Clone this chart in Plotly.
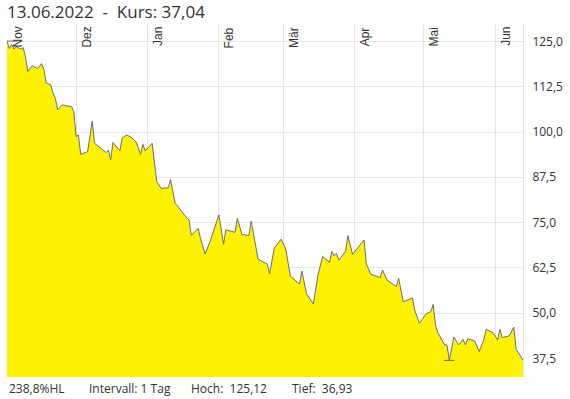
import plotly.graph_objects as go
import pandas as pd

# ---- data ----
dates = [
    "2021-11-01", "2021-11-02", "2021-11-03", "2021-11-04", "2021-11-05", "2021-11-07",
    "2021-11-08", "2021-11-09", "2021-11-10", "2021-11-12", "2021-11-14", "2021-11-15",
    "2021-11-16", "2021-11-17", "2021-11-18", "2021-11-20", "2021-11-21", "2021-11-22",
    "2021-11-23", "2021-11-25", "2021-11-27", "2021-11-29", "2021-11-30", "2021-12-01",
    "2021-12-02", "2021-12-03", "2021-12-06", "2021-12-07", "2021-12-08", "2021-12-09",
    "2021-12-11", "2021-12-14", "2021-12-15", "2021-12-16", "2021-12-17", "2021-12-20",
    "2021-12-21", "2021-12-23", "2021-12-25", "2021-12-27", "2021-12-29", "2021-12-30",
    "2021-12-31", "2022-01-03", "2022-01-05", "2022-01-07", "2022-01-10", "2022-01-11",
    "2022-01-13", "2022-01-14", "2022-01-17", "2022-01-19", "2022-01-20", "2022-01-23",
    "2022-01-24", "2022-01-26", "2022-01-28", "2022-02-01", "2022-02-03", "2022-02-04",
    "2022-02-08", "2022-02-09", "2022-02-11", "2022-02-14", "2022-02-15", "2022-02-17",
    "2022-02-18", "2022-02-22", "2022-02-23", "2022-02-25", "2022-02-28", "2022-03-02",
    "2022-03-04", "2022-03-08", "2022-03-09", "2022-03-11", "2022-03-14", "2022-03-16",
    "2022-03-18", "2022-03-21", "2022-03-22", "2022-03-23", "2022-03-24", "2022-03-25",
    "2022-03-28", "2022-03-29", "2022-03-31", "2022-04-05", "2022-04-06", "2022-04-08",
    "2022-04-12", "2022-04-13", "2022-04-15", "2022-04-19", "2022-04-20", "2022-04-22",
    "2022-04-26", "2022-04-27", "2022-04-29", "2022-05-02", "2022-05-04", "2022-05-05",
    "2022-05-06", "2022-05-07", "2022-05-10", "2022-05-11", "2022-05-12", "2022-05-14",
    "2022-05-16", "2022-05-18", "2022-05-19", "2022-05-20", "2022-05-23", "2022-05-25",
    "2022-05-27", "2022-05-28", "2022-05-31", "2022-06-02", "2022-06-03", "2022-06-04",
    "2022-06-07", "2022-06-09", "2022-06-10", "2022-06-13",
]
prices = [
    125.12, 123.1, 124.2, 122.9, 123.6, 122.9,
    123.3, 120.8, 116.7, 118.3, 117.6, 118.0,
    118.9, 117.3, 113.6, 113.0, 110.7, 109.3,
    106.1, 107.5, 107.2, 107.0, 105.6, 98.7,
    99.2, 93.8, 94.6, 99.2, 103.0, 96.9,
    95.9, 94.3, 95.0, 92.3, 97.1, 94.8,
    98.3, 99.2, 98.5, 97.3, 93.8, 96.6,
    94.8, 96.9, 86.3, 84.4, 84.6, 86.9,
    80.3, 79.6, 77.1, 75.7, 71.5, 73.4,
    70.6, 66.3, 69.5, 77.1, 69.0, 73.0,
    72.3, 76.2, 71.7, 71.4, 75.4, 68.1,
    64.9, 63.5, 60.8, 67.9, 70.4, 67.7,
    60.2, 58.0, 61.6, 55.4, 52.5, 60.5,
    65.6, 64.0, 67.0, 65.8, 66.5, 64.6,
    67.1, 71.4, 66.2, 70.2, 63.5, 60.7,
    59.8, 61.9, 59.1, 57.3, 59.6, 53.1,
    54.2, 50.8, 47.2, 49.8, 50.4, 52.4,
    46.7, 44.6, 41.2, 41.2, 36.93, 43.4,
    41.2, 42.7, 41.2, 42.9, 42.3, 39.4,
    42.6, 45.5, 44.6, 42.6, 45.5, 43.2,
    43.7, 46.1, 40.0, 37.04,
]
month_starts = ["2021-11-01", "2021-12-01", "2022-01-01", "2022-02-01", "2022-03-01",
                "2022-04-01", "2022-05-01", "2022-06-01"]
month_labels = ["Nov", "Dez", "Jan", "Feb", "Mär", "Apr", "Mai", "Jun"]
y_ticks = [37.5, 50.0, 62.5, 75.0, 87.5, 100.0, 112.5, 125.0]

title_text = "13.06.2022  -  Kurs: 37,04"
footer_items = ["238,8%HL", "Intervall: 1 Tag", "Hoch:  125,12", "Tief:  36,93"]
footer_px = [7, 88, 190, 292]

# ---- figure ----
W, H = 570, 399
ML, MR, MT, MB = 7, 43, 24, 22
PW = W - ML - MR
PH = H - MT - MB

grid = "#e6e6e6"
line_col = "#6e6e6e"
fill_col = "#fff200"
text_col = "#333333"

fig = go.Figure()
fig.add_trace(go.Scatter(
    x=dates, y=prices, mode="lines",
    line=dict(color=line_col, width=1),
    fill="tozeroy", fillcolor=fill_col,
    hoverinfo="skip", showlegend=False,
))

# high / low markers
hi_i = prices.index(max(prices))
lo_i = prices.index(min(prices))
half = pd.Timedelta(days=2.3)
for i in (hi_i, lo_i):
    d = pd.Timestamp(dates[i])
    fig.add_shape(type="line", xref="x", yref="y",
                  x0=d - half if i != hi_i else d, x1=d + half if i != hi_i else d + 2 * half,
                  y0=prices[i], y1=prices[i],
                  line=dict(color=line_col, width=1))

# month labels (rotated, at top of plot)
for ms, lab in zip(month_starts, month_labels):
    fig.add_annotation(x=ms, y=1, xref="x", yref="paper",
                       text=lab, textangle=-90, showarrow=False,
                       xanchor="left", yanchor="top", xshift=1, yshift=-1,
                       font=dict(family="Liberation Sans, Arial", size=12, color=text_col))

# footer
for txt, px in zip(footer_items, footer_px):
    fig.add_annotation(x=(px - ML) / PW, y=(PH + MT - 388) / PH, xref="paper", yref="paper",
                       text=txt, showarrow=False, xanchor="left", yanchor="middle",
                       font=dict(family="Open Sans", size=12, color=text_col))

fig.update_layout(
    width=W, height=H,
    margin=dict(l=ML, r=MR, t=MT, b=MB, pad=0),
    paper_bgcolor="white", plot_bgcolor="white",
    separators=",.",
    title=dict(text=title_text, x=ML / W, xanchor="left", xref="container",
               y=1 - 12 / H, yanchor="middle", yref="container",
               font=dict(family="Open Sans", size=17, color=text_col)),
    xaxis=dict(type="date", range=[dates[0], dates[-1]],
               tickvals=month_starts, showticklabels=False,
               showgrid=True, gridcolor=grid, gridwidth=1,
               zeroline=False, showline=False, ticks=""),
    yaxis=dict(side="right", range=[32.34, 129.83],
               tickvals=y_ticks, tickformat=".1f",
               showgrid=True, gridcolor=grid, gridwidth=1,
               zeroline=False, showline=True, linecolor=grid, linewidth=1,
               ticks="", ticklabelstandoff=6,
               tickfont=dict(family="Open Sans", size=12, color=text_col)),
    font=dict(family="Open Sans", color=text_col),
)

fig.write_html("out.html")
